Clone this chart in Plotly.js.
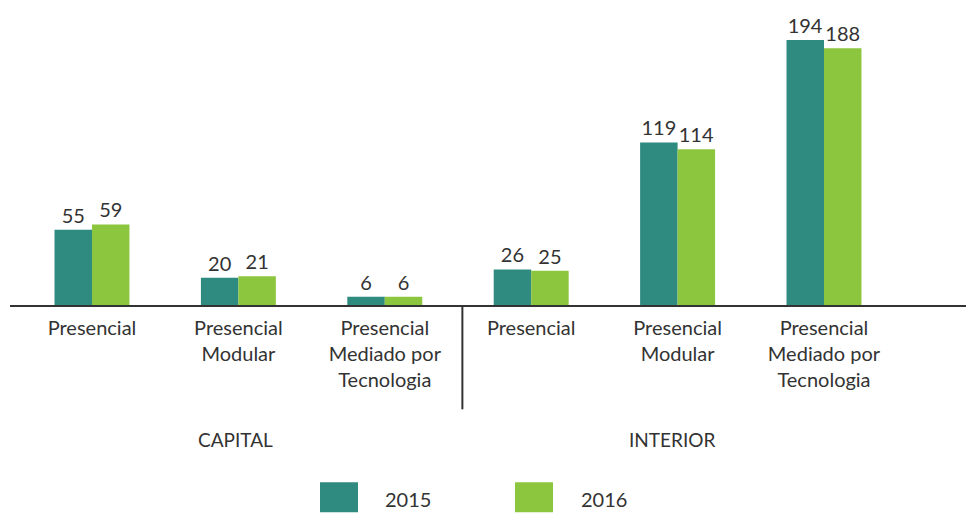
<!DOCTYPE html>
<html>
<head>
<meta charset="utf-8">
<script src="https://cdn.plot.ly/plotly-3.0.1.min.js"></script>
<style>html,body{margin:0;padding:0;background:#fff;}#chart{width:967px;height:513px;}</style>
</head>
<body>
<div id="chart"></div>
<script>
// ---- data ----
const categories = ["cap_p", "cap_pm", "cap_pmt", "int_p", "int_pm", "int_pmt"];
const tickLabels = [
  "Presencial",
  "Presencial<br>Modular",
  "Presencial<br>Mediado por<br>Tecnologia",
  "Presencial",
  "Presencial<br>Modular",
  "Presencial<br>Mediado por<br>Tecnologia"
];
const groups = ["CAPITAL", "INTERIOR"];
const seriesNames = ["2015", "2016"];
const values2015 = [55, 20, 6, 26, 119, 194];
const values2016 = [59, 21, 6, 25, 114, 188];

// ---- style ----
const W = 967, H = 513;
const M = {l: 10, r: 1, t: 20, b: 207.5};
const colors = ["#2f8a7f", "#8cc63f"];
const txt = "#333333";
const FONT = "Lato, 'Fira Sans', 'Noto Sans', sans-serif";
const pw = W - M.l - M.r, ph = H - M.t - M.b;
const px = x => (x - M.l) / pw;          // pixel -> paper x
const py = y => (H - M.b - y) / ph;      // pixel -> paper y

const traces = [values2015, values2016].map((vals, i) => ({
  type: "bar",
  name: seriesNames[i],
  x: categories,
  y: vals,
  text: vals.map(String),
  textposition: "outside",
  cliponaxis: false,
  textfont: {family: FONT, size: 20, color: txt},
  marker: {color: colors[i], line: {width: 0}},
  hoverinfo: "skip",
  showlegend: false
}));

const shapes = [
  // separator between groups
  {type: "line", xref: "x", yref: "paper", x0: 2.53, x1: 2.53, y0: 0, y1: py(410),
   line: {color: txt, width: 2}},
  // legend swatches
  {type: "rect", xref: "paper", yref: "paper", x0: px(320), x1: px(358), y0: py(483), y1: py(513),
   fillcolor: colors[0], line: {width: 0}},
  {type: "rect", xref: "paper", yref: "paper", x0: px(515), x1: px(553), y0: py(483), y1: py(513),
   fillcolor: colors[1], line: {width: 0}}
];

const annotations = [
  {text: groups[0], xref: "x", yref: "paper", x: 0.98, y: py(440), showarrow: false,
   xanchor: "center", yanchor: "middle", font: {family: FONT, size: 19, color: txt}},
  {text: groups[1], xref: "x", yref: "paper", x: 3.96, y: py(440), showarrow: false,
   xanchor: "center", yanchor: "middle", font: {family: FONT, size: 19, color: txt}},
  {text: seriesNames[0], xref: "paper", yref: "paper", x: px(408), y: py(500), showarrow: false,
   xanchor: "center", yanchor: "middle", font: {family: FONT, size: 20, color: txt}},
  {text: seriesNames[1], xref: "paper", yref: "paper", x: px(604), y: py(500), showarrow: false,
   xanchor: "center", yanchor: "middle", font: {family: FONT, size: 20, color: txt}}
];

const layout = {
  width: W, height: H,
  margin: M,
  paper_bgcolor: "#fff", plot_bgcolor: "#fff",
  barmode: "group",
  bargap: 0.488,
  bargroupgap: 0,
  showlegend: false,
  font: {family: FONT, color: txt},
  xaxis: {
    type: "category",
    range: [-0.56, 5.97],
    tickmode: "array",
    tickvals: categories,
    ticktext: tickLabels,
    tickfont: {family: FONT, size: 20, color: txt},
    ticks: "",
    ticklabelstandoff: 4,
    showline: true, linecolor: "#333", linewidth: 2,
    showgrid: false, zeroline: false,
    fixedrange: true
  },
  yaxis: {
    range: [0, 208.6],
    visible: false,
    showgrid: false, zeroline: false,
    fixedrange: true
  },
  shapes: shapes,
  annotations: annotations
};

Plotly.newPlot("chart", traces, layout, {displayModeBar: false, staticPlot: true});
</script>
</body>
</html>
